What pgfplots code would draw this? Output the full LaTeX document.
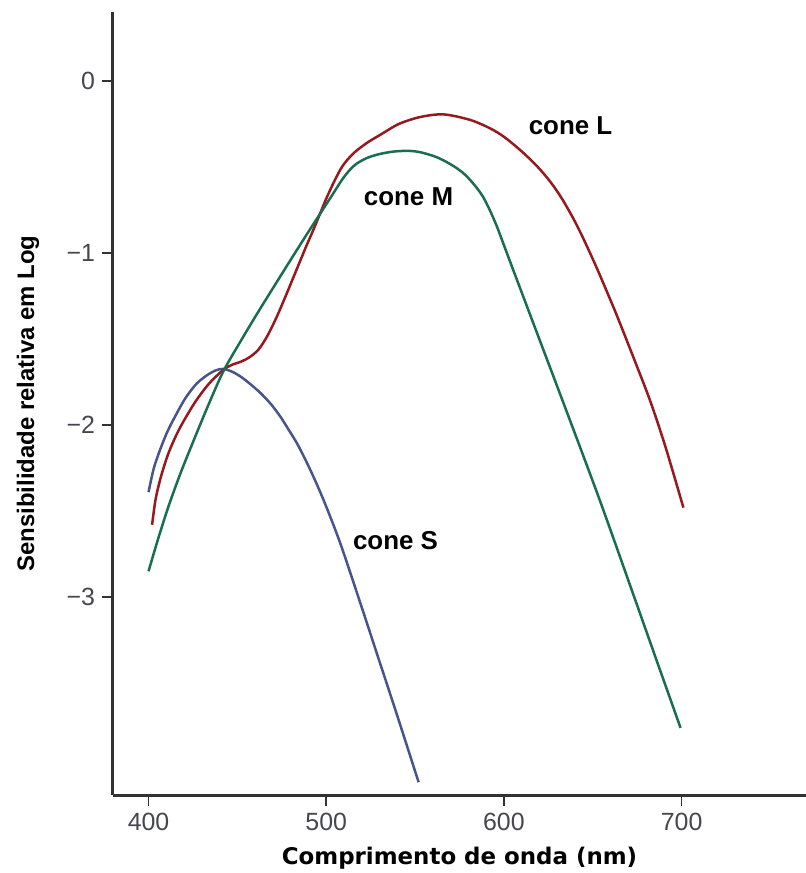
\documentclass[border=0pt]{standalone}
\usepackage{fontspec}
\setmainfont{Liberation Sans}
\newfontfamily\dejavu{DejaVu Sans}
\usepackage{pgfplots}
\pgfplotsset{compat=1.18}
\definecolor{cL}{RGB}{150,25,30}
\definecolor{cM}{RGB}{25,110,80}
\definecolor{cS}{RGB}{72,85,140}
\definecolor{axc}{RGB}{50,50,50}
\definecolor{tickc}{RGB}{70,70,80}
\begin{document}
\begin{tikzpicture}
\begin{axis}[
  scale only axis, width=346.5bp, height=391.5bp,
  xmin=380, xmax=770, ymin=-4.15, ymax=0.40,
  axis x line=bottom, axis y line=left,
  axis line style={-, line width=1.5bp, color=axc},
  xtick={400,500,600,700}, xticklabels={400,500,600,700},
  ytick={-3,-2,-1,0}, yticklabels={−3,−2,−1,0},
  tick align=outside, major tick length=5.5bp,
  tick style={line width=0.8bp, color=axc},
  ticklabel style={font=\fontsize{12.5}{14}\selectfont, text=tickc},
  xlabel={\dejavu\bfseries Comprimento de onda (nm)},
  ylabel={\bfseries Sensibilidade relativa em Log},
  xlabel style={font=\fontsize{11.5}{13}\selectfont, at={(axis description cs:0.5,-0.0805)}, anchor=center},
  ylabel style={font=\fontsize{12}{14}\selectfont, at={(axis description cs:-0.1227,0.5)}, anchor=center},
  clip=false,
]
\addplot[cS, line width=1.25bp, smooth, tension=0.5] coordinates {
(400,-2.39) (403,-2.25) (407,-2.13) (411,-2.03) (416,-1.93) (421,-1.84) (427,-1.76) (433,-1.71)
(438,-1.682) (442,-1.674) (447,-1.69) (452,-1.72) (457,-1.76) (463,-1.814) (469,-1.88)
(474.3,-1.953) (479,-2.03) (484,-2.115) (491,-2.26) (498.5,-2.436) (508,-2.69) (520,-3.06)
(530,-3.375) (540,-3.69) (552,-4.076)
};
\addplot[cL, line width=1.25bp, smooth, tension=0.5] coordinates {
(402,-2.58) (404,-2.43) (407,-2.30) (411,-2.17) (416,-2.05) (421,-1.955) (427,-1.855) (434,-1.76)
(442,-1.68) (447,-1.65) (452,-1.632) (457,-1.605) (462,-1.56) (467,-1.48) (472,-1.375)
(477,-1.255) (482,-1.13) (486,-1.03) (489,-0.955) (493,-0.86) (496.4,-0.775) (500,-0.685)
(504,-0.595) (508,-0.515) (511,-0.47) (516,-0.415) (523,-0.36) (531,-0.31) (541,-0.25)
(553,-0.21) (566,-0.195) (581,-0.227) (592,-0.275) (600,-0.325) (610,-0.41) (619,-0.5)
(626,-0.585) (632,-0.674) (638,-0.78) (643,-0.88) (648,-0.99) (653,-1.105) (660,-1.275)
(664,-1.375) (673,-1.61) (682.5,-1.865) (691,-2.13) (701,-2.48)
};
\addplot[cM, line width=1.25bp, smooth, tension=0.5] coordinates {
(400,-2.85) (405,-2.675) (411,-2.48) (418,-2.28) (425,-2.1) (433,-1.9) (442,-1.69)
(452,-1.51) (461,-1.355) (470.3,-1.2) (480,-1.04) (489.5,-0.885) (496.4,-0.775) (503,-0.67)
(509.9,-0.56) (516,-0.49) (523,-0.448) (530.6,-0.424) (538,-0.411) (546,-0.407) (553,-0.415)
(562,-0.443) (570,-0.485) (577,-0.535) (583,-0.6) (588,-0.67) (592,-0.75) (596,-0.845)
(600,-0.955) (606,-1.12) (616.6,-1.41) (635.8,-1.935) (654.4,-2.45)
(673,-2.99) (686,-3.37) (699.4,-3.76)
};
\node[font=\fontsize{13}{15}\selectfont\bfseries] at (axis cs:637.5,-0.262) {cone L};
\node[font=\fontsize{13}{15}\selectfont\bfseries] at (axis cs:546.3,-0.674) {cone M};
\node[font=\fontsize{13}{15}\selectfont\bfseries] at (axis cs:539,-2.674) {cone S};
\end{axis}
\pgfresetboundingbox
\path[use as bounding box] (current axis.south west) ++(-56.5bp,-39bp) rectangle ++(403bp,436.5bp);
\end{tikzpicture}
\end{document}
